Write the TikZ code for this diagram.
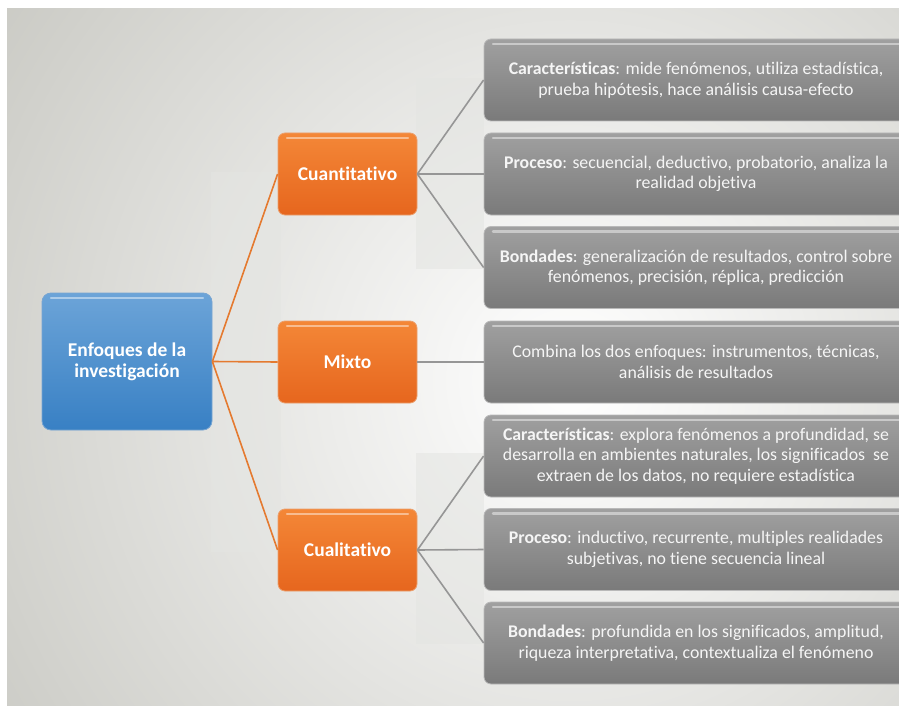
\documentclass[tikz,border=0pt]{standalone}
\usepackage{fontspec}
\setmainfont{Carlito}[Ligatures={NoCommon}]
\definecolor{gtop}{RGB}{160,160,160}
\definecolor{gbot}{RGB}{122,122,122}
\definecolor{gedge}{RGB}{185,185,185}
\definecolor{gtext}{RGB}{245,245,245}
\definecolor{otop}{RGB}{244,135,55}
\definecolor{obot}{RGB}{230,102,30}
\definecolor{oedge}{RGB}{235,160,110}
\definecolor{btop}{RGB}{108,164,216}
\definecolor{bbot}{RGB}{56,128,196}
\definecolor{bedge}{RGB}{120,165,210}
\definecolor{oline}{RGB}{228,122,48}
\definecolor{gline}{RGB}{150,150,150}
\definecolor{bgdark}{RGB}{200,200,194}
\definecolor{band}{RGB}{228,229,226}
\begin{document}
\begin{tikzpicture}[x=1pt,y=-1pt,
  hl/.style={path picture={\draw[white,opacity=.45,line width=2.5pt,line cap=round]
     ([xshift=9pt,yshift=-5pt]path picture bounding box.north west) --
     ([xshift=-9pt,yshift=-5pt]path picture bounding box.north east);}},
  gbox/.style={rounded corners=7pt, top color=gtop, bottom color=gbot, draw=gedge,
     line width=0.8pt, minimum width=424pt, minimum height=82pt, inner sep=0pt,
     text=gtext, align=center, font=\fontsize{17.8}{20.5}\selectfont, hl},
  obox/.style={rounded corners=7pt, top color=otop, bottom color=obot, draw=oedge,
     line width=0.8pt, minimum width=139pt, minimum height=82pt, inner sep=0pt,
     text=white, align=center, font=\fontsize{19.5}{21}\selectfont\bfseries, hl},
  rootbox/.style={rounded corners=9pt, top color=btop, bottom color=bbot, draw=bedge,
     line width=0.8pt, minimum width=170pt, minimum height=137pt, inner sep=0pt,
     text=white, align=center, font=\fontsize{19.5}{21}\selectfont\bfseries, hl},
  oconn/.style={draw=oline, line width=1.6pt},
  gconn/.style={draw=gline, line width=1.6pt},
  bandbox/.style={fill=band, draw=none}
]
\useasboundingbox (0,0) rectangle (899,706);
\clip (0,0) rectangle (899,706);
\fill[white] (0,0) rectangle (899,706);
% background
\begin{scope}
  \clip (7,9) rectangle (899,706);
  \shade[inner color=white, outer color=bgdark] (570,380) circle (720);
\end{scope}
% faint bands behind connectors
\fill[bandbox, opacity=.55] (211,172) rectangle (281,552);
\fill[bandbox, opacity=.55] (416,78) rectangle (484,269);
\fill[bandbox, opacity=.55] (416,453) rectangle (484,644);

% nodes
\node[rootbox] (root) at (127,361.5) {Enfoques de la\\investigación};
\node[obox] (cuan) at (347.5,174) {Cuantitativo};
\node[obox] (mix) at (347.5,362) {Mixto};
\node[obox] (cual) at (347.5,550) {Cualitativo};

\node[gbox] (q1) at (696,80) {\textbf{Características}: mide fenómenos, utiliza estadística,\\prueba hipótesis, hace análisis causa-efecto};
\node[gbox] (q2) at (696,174) {\textbf{Proceso}: secuencial, deductivo, probatorio, analiza la\\realidad objetiva};
\node[gbox] (q3) at (696,267.5) {\textbf{Bondades}: generalización de resultados, control sobre\\fenómenos, precisión, réplica, predicción};
\node[gbox] (m1) at (696,362) {Combina los dos enfoques: instrumentos, técnicas,\\análisis de resultados};
\node[gbox] (l1) at (696,456) {\textbf{Características}: explora fenómenos a profundidad, se\\desarrolla en ambientes naturales, los significados\ \ se\\extraen de los datos, no requiere estadística};
\node[gbox] (l2) at (696,549.5) {\textbf{Proceso}: inductivo, recurrente, multiples realidades\\subjetivas, no tiene secuencia lineal};
\node[gbox] (l3) at (696,643) {\textbf{Bondades}: profundida en los significados, amplitud,\\riqueza interpretativa, contextualiza el fenómeno};

% connectors
\draw[oconn] (root.east) -- (cuan.west);
\draw[oconn] (root.east) -- (mix.west);
\draw[oconn] (root.east) -- (cual.west);
\draw[gconn] (cuan.east) -- (q1.west);
\draw[gconn] (cuan.east) -- (q2.west);
\draw[gconn] (cuan.east) -- (q3.west);
\draw[gconn] (mix.east) -- (m1.west);
\draw[gconn] (cual.east) -- (l1.west);
\draw[gconn] (cual.east) -- (l2.west);
\draw[gconn] (cual.east) -- (l3.west);
\end{tikzpicture}
\end{document}
